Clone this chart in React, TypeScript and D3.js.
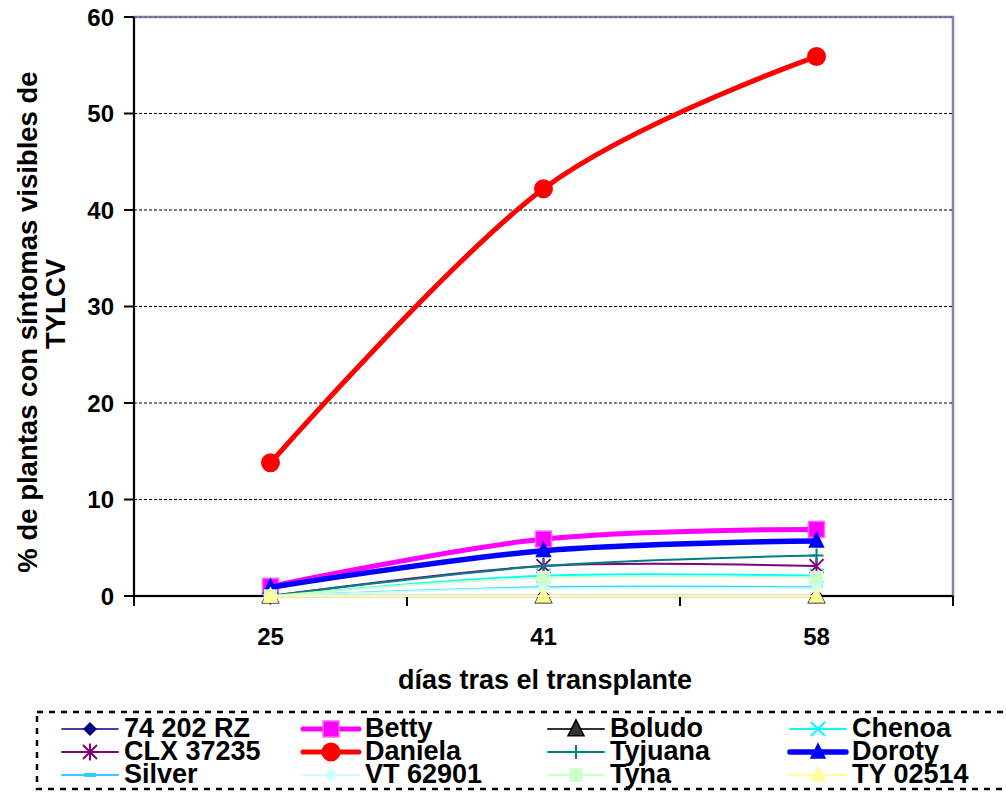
import React from "react";
import * as d3 from "d3";

const categories = ["25", "41", "58"];
const yTicks = [0, 10, 20, 30, 40, 50, 60];

const seriesNames = [
  "74 202 RZ", "Betty", "Boludo", "Chenoa",
  "CLX 37235", "Daniela", "Tyjuana", "Doroty",
  "Silver", "VT 62901", "Tyna", "TY 02514",
];
const v74202RZ = [0, 0, 0];
const vBetty = [1.0, 5.9, 6.9];
const vBoludo = [0, 0, 0];
const vChenoa = [0, 2.1, 2.1];
const vCLX = [0, 3.1, 3.1];
const vDaniela = [13.8, 42.2, 55.9];
const vTyjuana = [0, 3.1, 4.2];
const vDoroty = [0.9, 4.7, 5.7];
const vSilver = [0, 0.9, 0.9];
const vVT = [0, 0.8, 0.8];
const vTyna = [0, 1.9, 1.9];
const vTY02514 = [0, 0, 0];

const seriesValues = [
  v74202RZ, vBetty, vBoludo, vChenoa,
  vCLX, vDaniela, vTyjuana, vDoroty,
  vSilver, vVT, vTyna, vTY02514,
];

type Style = { color: string; width: number; marker: string; size: number; stroke?: string };
const styles: Style[] = [
  { color: "#000080", width: 1.5, marker: "diamond", size: 7 },
  { color: "#FF00FF", width: 5, marker: "square", size: 8, stroke: "#FF66FF" },
  { color: "#333333", width: 2, marker: "triangle", size: 8, stroke: "#000000" },
  { color: "#00FFFF", width: 2, marker: "x", size: 7 },
  { color: "#800080", width: 2, marker: "star", size: 7 },
  { color: "#FF0000", width: 5, marker: "circle", size: 9.5 },
  { color: "#008080", width: 2, marker: "plus", size: 7 },
  { color: "#0000FF", width: 5.5, marker: "triangle", size: 7 },
  { color: "#33CCFF", width: 2, marker: "dash", size: 6 },
  { color: "#CCFFFF", width: 2, marker: "diamond", size: 7 },
  { color: "#CCFFCC", width: 2, marker: "square", size: 6 },
  { color: "#FFFF99", width: 2, marker: "triangle", size: 7 },
];

const FONT = "'Liberation Sans', Arial, sans-serif";

function Marker({ x, y, s }: { x: number; y: number; s: Style }) {
  const r = s.size;
  switch (s.marker) {
    case "circle":
      return <circle cx={x} cy={y} r={r} fill={s.color} />;
    case "square":
      return (
        <rect x={x - r} y={y - r} width={2 * r} height={2 * r} fill={s.color}
          stroke={s.stroke || s.color} strokeWidth={1.5} />
      );
    case "diamond":
      return (
        <path d={`M${x},${y - r}L${x + r},${y}L${x},${y + r}L${x - r},${y}Z`} fill={s.color} />
      );
    case "triangle":
      return (
        <path d={`M${x},${y - r * 1.15}L${x + r},${y + r * 0.85}L${x - r},${y + r * 0.85}Z`}
          fill={s.color} stroke={s.stroke || s.color} strokeWidth={1.5} strokeLinejoin="miter" />
      );
    case "x":
      return (
        <path d={`M${x - r},${y - r}L${x + r},${y + r}M${x - r},${y + r}L${x + r},${y - r}`}
          stroke={s.color} strokeWidth={2} />
      );
    case "star":
      return (
        <path d={`M${x - r},${y - r}L${x + r},${y + r}M${x - r},${y + r}L${x + r},${y - r}M${x},${y - r * 1.2}L${x},${y + r * 1.2}`}
          stroke={s.color} strokeWidth={2} />
      );
    case "plus":
      return (
        <path d={`M${x - r},${y}L${x + r},${y}M${x},${y - r}L${x},${y + r}`}
          stroke={s.color} strokeWidth={2} />
      );
    case "dash":
      return <path d={`M${x - r},${y}L${x + r},${y}`} stroke={s.color} strokeWidth={4} />;
    default:
      return null;
  }
}

export default function App() {
  const W = 1006, H = 794;
  const left = 134, right = 953, top = 17, bottom = 596;
  const x = d3.scaleBand<string>().domain(categories).range([left, right]).padding(0);
  const y = d3.scaleLinear().domain([0, 60]).range([bottom, top]);
  const cx = (c: string) => (x(c) as number) + x.bandwidth() / 2;
  const line = d3.line<number>()
    .x((_, i) => cx(categories[i]))
    .y((d) => y(d))
    .curve(d3.curveCardinal.tension(0));

  const legendCols = [62, 303, 548, 790];
  const legendRows = [729, 752, 775];

  return (
    <svg width={W} height={H} style={{ position: "absolute", left: 0, top: 0 }} fontFamily={FONT}>
      <rect x={0} y={0} width={W} height={H} fill="#fff" />
      {/* plot border */}
      <rect x={left} y={top} width={right - left} height={bottom - top} fill="none" stroke="#8080A8" strokeWidth={2.5} />
      {/* gridlines */}
      {yTicks.filter((t) => t > 0).map((t) => (
        <line key={t} x1={left} x2={right} y1={y(t)} y2={y(t)} stroke={t === 60 ? "#60607a" : "#000"} strokeWidth={1} strokeDasharray="3,2" />
      ))}
      {/* axes */}
      <line x1={left} x2={left} y1={top} y2={bottom} stroke="#000" strokeWidth={2} />
      <line x1={left - 10} x2={right} y1={bottom} y2={bottom} stroke="#000" strokeWidth={2} />
      {yTicks.map((t) => (
        <g key={t}>
          <line x1={left - 10} x2={left} y1={y(t)} y2={y(t)} stroke="#000" strokeWidth={2} />
          <text x={114} y={y(t)} dy="0.36em" textAnchor="end" fontWeight="bold" fontSize={24}>{t}</text>
        </g>
      ))}
      {[...categories.map((c) => x(c) as number), right].map((p, i) => (
        <line key={i} x1={p} x2={p} y1={bottom} y2={bottom + 10} stroke="#000" strokeWidth={2} />
      ))}
      {categories.map((c) => (
        <text key={c} x={cx(c)} y={645} textAnchor="middle" fontWeight="bold" fontSize={24}>{c}</text>
      ))}
      <text x={545} y={689} textAnchor="middle" fontWeight="bold" fontSize={27}>días tras el transplante</text>
      <g transform="translate(37,322) rotate(-90)">
        <text x={0} y={0} textAnchor="middle" fontWeight="bold" fontSize={27.5}>% de plantas con síntomas visibles de</text>
      </g>
      <g transform="translate(65,304) rotate(-90)">
        <text x={0} y={0} textAnchor="middle" fontWeight="bold" fontSize={27.5}>TYLCV</text>
      </g>
      {/* series */}
      {seriesValues.map((vals, si) => (
        <g key={seriesNames[si]}>
          <path d={line(vals) || ""} fill="none" stroke={styles[si].color} strokeWidth={styles[si].width} strokeLinejoin="round" strokeLinecap="round" />
          {vals.map((v, i) => (
            <Marker key={i} x={cx(categories[i])} y={y(v)} s={styles[si]} />
          ))}
        </g>
      ))}
      {/* legend */}
      <rect x={37} y={712} width={990} height={77} fill="none" stroke="#000" strokeWidth={2.5} strokeDasharray="6,6" />
      {seriesNames.map((name, i) => {
        const col = i % 4, row = Math.floor(i / 4);
        const lx = legendCols[col], ly = legendRows[row];
        const s = styles[i];
        return (
          <g key={name}>
            <line x1={lx} x2={lx + 56} y1={ly} y2={ly} stroke={s.color} strokeWidth={s.width} strokeLinecap="round" />
            <Marker x={lx + 28} y={ly} s={s} />
            <text x={lx + 62} y={ly + 8} fontWeight="bold" fontSize={27}>{name}</text>
          </g>
        );
      })}
    </svg>
  );
}
